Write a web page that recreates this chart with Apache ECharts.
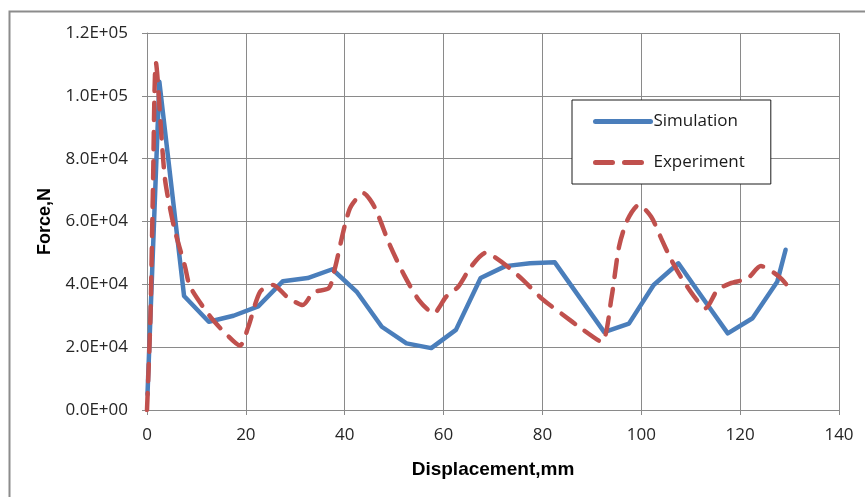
<!DOCTYPE html>
<html>
<head>
<meta charset="utf-8">
<script src="https://cdn.jsdelivr.net/npm/echarts@6/dist/echarts.min.js"></script>
<style>
html,body{margin:0;padding:0;background:#fff;}
#c{width:865px;height:497px;}
</style>
</head>
<body>
<div id="c"></div>
<script>
// Displacement (mm) / Force (N)
var simX = [0.1, 2.5, 7.5, 12.5, 17.5, 22.5, 27.5, 32.5, 37.5, 42.5, 47.5, 52.5, 57.5, 62.5, 67.5, 72.5, 77.5, 82.5, 92.5, 97.5, 102.5, 107.5, 112.5, 117.5, 122.5, 127.5, 129.2];
var simY = [5000, 104500, 36300, 28100, 30000, 33000, 41000, 42000, 44800, 37500, 26500, 21200, 19700, 25500, 42000, 45800, 46700, 47000, 24800, 27500, 39800, 46700, 35500, 24400, 29200, 40800, 51000];

var expX = [0, 0.7, 1.2, 1.8, 3.6, 5.5, 7.7, 8.7, 12.8, 15.8, 18.8, 20.5, 22.9, 25.5, 28.3, 31.5, 33.7, 36.8, 38, 41, 43.8, 46, 49, 52, 55, 58, 60.5, 63, 65.5, 68.5, 70, 73, 76, 80, 84, 88, 92, 94, 95.5, 97.2, 99.5, 102, 104, 106, 108, 110.7, 113, 115.4, 118, 121.5, 124.2, 127.9, 130.3];
var expY = [0, 30000, 70000, 110500, 74000, 58000, 45600, 39300, 29700, 24500, 20500, 26500, 37700, 39800, 36100, 33400, 37500, 38800, 45000, 64000, 69000, 64700, 53000, 43000, 35000, 30800, 36000, 39300, 45500, 50000, 49000, 45600, 41500, 35300, 30500, 25800, 21700, 36000, 52000, 60500, 65300, 61500, 54700, 48000, 42400, 36100, 32400, 38200, 40300, 41900, 45800, 42400, 38200];

var xTicks = [0, 20, 40, 60, 80, 100, 120, 140];
var yTicks = [0, 20000, 40000, 60000, 80000, 100000, 120000];

function zip(a, b) { return a.map(function (v, i) { return [v, b[i]]; }); }
function sci(v) {
  if (v === 0) return '0.0E+00';
  var e = Math.floor(Math.log10(Math.abs(v)));
  var m = v / Math.pow(10, e);
  return m.toFixed(1) + 'E' + (e >= 0 ? '+' : '-') + (Math.abs(e) < 10 ? '0' : '') + Math.abs(e);
}

var chart = echarts.init(document.getElementById('c'));
var gridColor = '#8a8a8a';
var font = '"Open Sans", sans-serif';
chart.setOption({
  animation: false,
  backgroundColor: '#fff',
  graphic: [{
    type: 'rect', left: 7, top: 9,
    shape: { width: 900, height: 600 },
    style: { fill: 'none', stroke: '#8c8c8c', lineWidth: 2 }
  }],
  grid: { left: 147, top: 33, right: 26, bottom: 87, show: false },
  legend: {
    orient: 'vertical', left: 572, top: 100,
    padding: [13, 26, 13, 21],
    itemWidth: 55, itemHeight: 14, itemGap: 24,
    borderColor: '#1a1a1a', borderWidth: 1, backgroundColor: '#fff',
    itemStyle: { opacity: 0 },
    lineStyle: { width: 5, cap: 'round' },
    textStyle: { fontFamily: font, fontSize: 17, color: '#1a1a1a', padding: [0, 0, 0, -2] },
    data: ['Simulation', 'Experiment']
  },
  xAxis: {
    type: 'value', min: xTicks[0], max: xTicks[xTicks.length - 1], interval: 20,
    name: 'Displacement,mm', nameLocation: 'middle', nameGap: 50,
    nameTextStyle: { fontFamily: '"Liberation Sans", Arial, sans-serif', fontWeight: 'bold', fontSize: 19, color: '#000' },
    axisLine: { show: true, onZero: false, lineStyle: { color: gridColor, width: 1 } },
    axisTick: { show: true, length: 5, lineStyle: { color: gridColor } },
    axisLabel: { fontFamily: font, fontSize: 17, color: '#262626', margin: 17 },
    splitLine: { show: true, lineStyle: { color: gridColor, width: 1 } }
  },
  yAxis: {
    type: 'value', min: yTicks[0], max: yTicks[yTicks.length - 1], interval: 20000,
    name: 'Force,N', nameLocation: 'middle', nameGap: 93, nameRotate: 90,
    nameTextStyle: { fontFamily: '"Liberation Sans", Arial, sans-serif', fontWeight: 'bold', fontSize: 18, color: '#000' },
    axisLine: { show: true, lineStyle: { color: gridColor, width: 1 } },
    axisTick: { show: true, length: 5, lineStyle: { color: gridColor } },
    axisLabel: { fontFamily: font, fontSize: 17, color: '#262626', margin: 19, formatter: sci },
    splitLine: { show: true, lineStyle: { color: gridColor, width: 1 } }
  },
  series: [{
    name: 'Simulation', type: 'line', data: zip(simX, simY),
    symbol: 'none', smooth: false,
    itemStyle: { color: '#4A7EBB' },
    lineStyle: { color: '#4A7EBB', width: 4.5, join: 'round', cap: 'round' },
    z: 2
  }, {
    name: 'Experiment', type: 'line', data: zip(expX, expY),
    symbol: 'none', smooth: 0.25,
    itemStyle: { color: '#C0504D' },
    lineStyle: { color: '#C0504D', width: 4.5, type: [17, 12], cap: 'round', join: 'round' },
    z: 3
  }]
});
</script>
</body>
</html>
